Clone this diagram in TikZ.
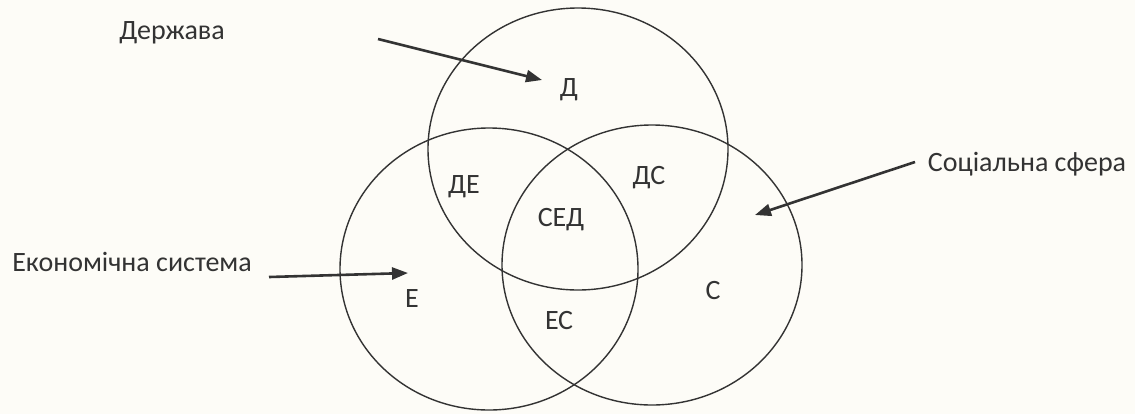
\documentclass[tikz,border=0pt]{standalone}
\usepackage{fontspec}
\setmainfont{Carlito}
\usepackage{tikz}
\usetikzlibrary{arrows.meta}
\definecolor{ink}{HTML}{333333}
\definecolor{paper}{HTML}{FDFCF7}

\begin{document}
\begin{tikzpicture}[x=0.5pt, y=-0.5pt]
    \tikzstyle{lbl} += [text=ink, font=\fontsize{14}{17}\selectfont, inner sep=0pt];
    \tikzstyle{ring} += [draw=ink, line width=0.7pt];
    \fill[paper] (0,0) rectangle (1135,414);
    \useasboundingbox (0,0) rectangle (1135,414);

    \draw[ring] (578,149) ellipse [x radius=150, y radius=141];
    \draw[ring] (489,269) ellipse [x radius=149, y radius=141];
    \draw[ring] (652,265) ellipse [x radius=150, y radius=140];

    \node (derzh) at ( 172, 33) [lbl]{Держава};
    \node (ekon)  at ( 132,262) [lbl]{Економічна система};
    \node (soc)   at (1027,164) [lbl]{Соціальна сфера};

    \node (d)   at (569, 90) [lbl]{Д};
    \node (de)  at (464,187) [lbl]{ДЕ};
    \node (sed) at (561,220) [lbl]{СЕД};
    \node (ds)  at (649,178) [lbl]{ДС};
    \node (e)   at (412,299) [lbl]{Е};
    \node (es)  at (559,321) [lbl]{ЕС};
    \node (s)   at (713,291) [lbl]{С};

    \coordinate (dtail) at (378, 39);
    \coordinate (dtip)  at (542, 80);
    \coordinate (etail) at (269,277);
    \coordinate (etip)  at (408,273);
    \coordinate (stail) at (915,162);
    \coordinate (stip)  at (755,215);

    \begin{scope}[ink, line width=1.3pt, -{Triangle[length=8pt, width=6pt]}]
      \draw (dtail) -- (dtip);
      \draw (etail) -- (etip);
      \draw (stail) -- (stip);
    \end{scope}
\end{tikzpicture}
\end{document}
